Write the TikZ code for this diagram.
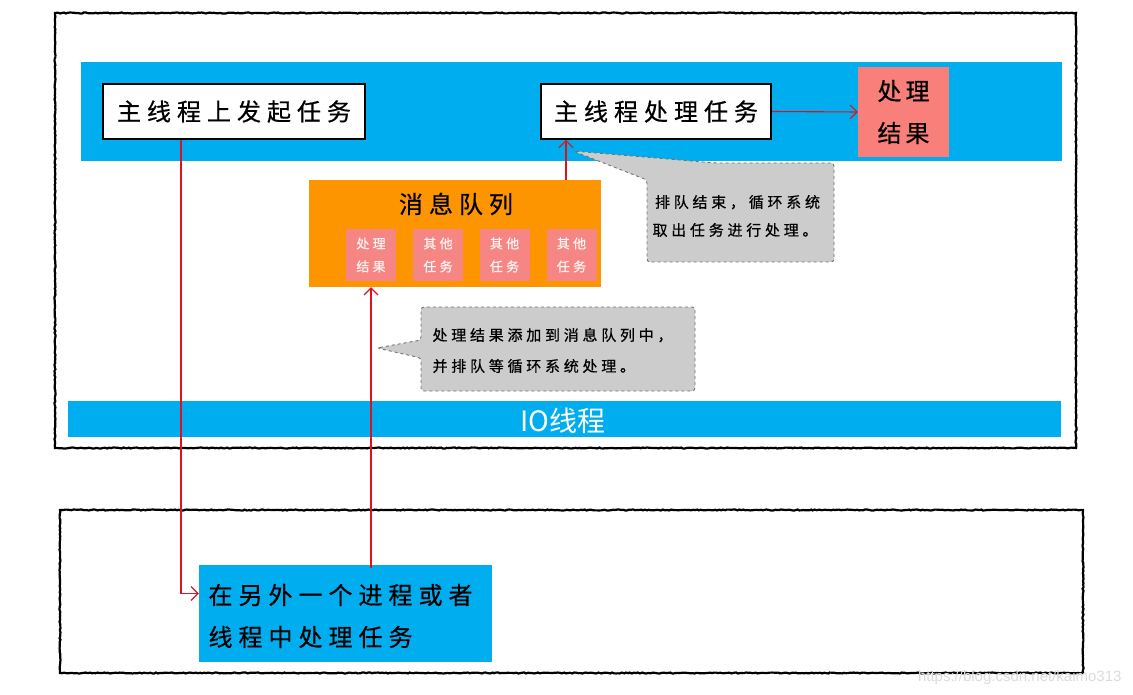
\documentclass[tikz,border=0pt]{standalone}
\usepackage{fontspec}
\newfontfamily\cjk{Noto Sans CJK SC}
\newfontfamily\cjkb[FakeBold=0.6]{Noto Sans CJK SC}
\newfontfamily\cjks[LetterSpace=25,FakeBold=0.6]{Noto Sans CJK SC}
\newfontfamily\wm{Liberation Sans}
\usetikzlibrary{arrows.meta,decorations.pathmorphing,calc}
\definecolor{tblue}{HTML}{00AEEF}
\definecolor{torange}{HTML}{FD9500}
\definecolor{tpink}{HTML}{F97F7A}
\definecolor{tpink2}{HTML}{F68683}
\definecolor{tgray}{HTML}{CCCCCC}
\definecolor{tred}{HTML}{E0101E}
\tikzset{
  frame/.style={draw=black, line width=2.2pt, decorate, decoration={random steps, segment length=2pt, amplitude=0.5pt}},
  whitebox/.style={draw=black, line width=1.6pt, fill=white, inner sep=0pt},
  bigtxt/.style={font=\cjks\fontsize{24}{42}\selectfont},
  midtxt/.style={font=\cjks\fontsize{15}{28}\selectfont},
  smalltxt/.style={font=\cjks\fontsize{13}{23}\selectfont, text=white!92!tpink},
  pinkbox/.style={fill=tpink, inner sep=0pt},
  smallpink/.style={fill=tpink2, inner sep=0pt, minimum width=50pt, minimum height=52pt},
  callout/.style={draw=black!55, dashed, line width=0.9pt, fill=tgray, rounded corners=3pt},
  arr/.style={draw=tred, line width=1.1pt, -{Straight Barb[length=7pt,width=14pt]}},
}
\begin{document}
\begin{tikzpicture}[x=1pt,y=-1pt]
\useasboundingbox (0,0) rectangle (1133,695);
% frames
\draw[frame] (55,13) rectangle (1076,448);
\draw[frame] (60,510) rectangle (1083,673);
% main thread band
\fill[tblue] (81,62) rectangle (1062,161);
% IO bar
\fill[tblue] (68,401) rectangle (1061,437);
\node[font=\cjk\fontsize{28}{30}\selectfont, text=white] (io) at (563,421) {IO线程};
% boxes
\node[whitebox, minimum width=262pt, minimum height=55pt, bigtxt] (b1) at (234,111.5) {主线程上发起任务};
\node[whitebox, minimum width=230pt, minimum height=55pt, bigtxt] (b2) at (656,111.5) {主线程处理任务};
\node[pinkbox, minimum width=91pt, minimum height=90pt, align=center, font=\cjkb\fontsize{24}{42}\selectfont] (res) at (903.5,112) {处\,理\\结\,果};
% callout 1
\path[callout] (573,151) -- (715,163) -- (834,163) -- (834,262) -- (647,262) -- (647,180) -- cycle;
\node[midtxt, anchor=west, align=left] (c1t) at (649,216) {\,排队结束，循环系统\\取出任务进行处理。};
% queue
\node[fill=torange, minimum width=292pt, minimum height=107pt, inner sep=0pt] (q) at (455,233.5) {};
\node[bigtxt] (qt) at (456,204) {消息队列};
\node[smallpink] (s1) at (371,255) {};
\node[smallpink] (s2) at (438,255) {};
\node[smallpink] (s3) at (504.5,255) {};
\node[smallpink] (s4) at (571.5,255) {};
\node[smalltxt, align=center] at (s1) {处理\\结果};
\node[smalltxt, align=center] at (s2) {其他\\任务};
\node[smalltxt, align=center] at (s3) {其他\\任务};
\node[smalltxt, align=center] at (s4) {其他\\任务};
% callout 2
\path[callout] (377,348) -- (421,340) -- (421,307) -- (695,307) -- (695,391) -- (421,391) -- (421,358) -- cycle;
\node[midtxt, anchor=west, align=left, font=\cjks\fontsize{15}{31}\selectfont] (c2t) at (429,350.5) {处理结果添加到消息队列中，\\并排队等循环系统处理。};
% bottom box
\node[fill=tblue, minimum width=293pt, minimum height=97pt, inner sep=0pt] (bb) at (345.5,613.5) {};
\node[bigtxt, anchor=west, align=left] (bbt) at (205,616) {在另外一个进程或者\\线程中处理任务};
% connectors
\draw[arr] ([xshift=-53pt]b1.south) |- ([yshift=20pt]bb.west);
\draw[arr] ([xshift=25.5pt,yshift=-3pt]bb.north) -- ([xshift=-84pt]q.south);
\draw[arr] ([xshift=111pt]q.north) -- ([xshift=-90pt]b2.south);
\draw[arr] (b2.east) -- (res.west);
% watermark
\node[font=\wm\fontsize{15}{16}\selectfont, text=black!14, anchor=east] (wmk) at (1125,678) {https://blog.csdn.net/kaimo313};
\end{tikzpicture}
\end{document}
